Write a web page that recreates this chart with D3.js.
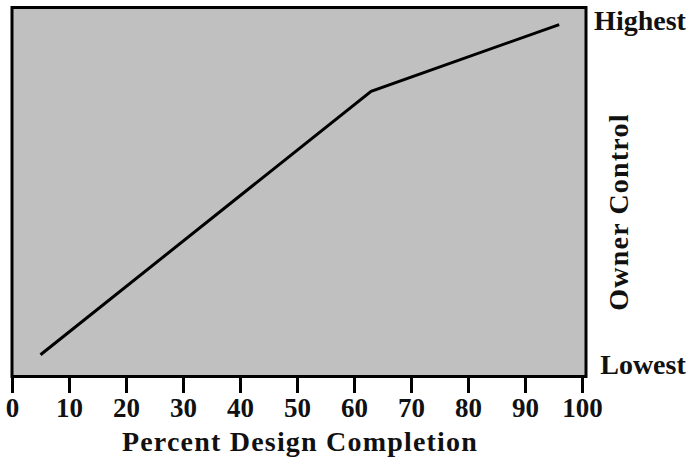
<!DOCTYPE html>
<html><head><meta charset="utf-8">
<script src="https://cdn.jsdelivr.net/npm/d3@7"></script>
<style>body{margin:0;background:#fff}svg{display:block}</style>
</head><body>
<script>
const completion = [5, 63, 96];
const ownerControl = [6, 77, 95];
const xTicks = [0,10,20,30,40,50,60,70,80,90,100];
const yLabels = ["Lowest", "Highest"];
const xTitle = "Percent Design Completion";
const yTitle = "Owner Control";

const W = 694, H = 464;
const svg = d3.select("body").append("svg").attr("width", W).attr("height", H);
const font = "'Liberation Serif', 'Times New Roman', serif";
const x = d3.scaleLinear().domain([0,100]).range([12, 582]);
const y = d3.scaleLinear().domain([0,100]).range([377, 6]);

svg.append("rect").attr("x", 12).attr("y", 7.5).attr("width", 574).attr("height", 369)
  .attr("fill", "#c0c0c0").attr("stroke", "#000").attr("stroke-width", 3);

const ax = svg.append("g").attr("transform", "translate(0,377)")
  .call(d3.axisBottom(x).tickValues(xTicks).tickSize(16).tickPadding(5).tickFormat(d3.format("d")));
ax.select(".domain").remove();
ax.selectAll(".tick line").attr("stroke", "#000").attr("stroke-width", 3);
ax.selectAll(".tick text").attr("font-family", font).attr("font-size", 27).attr("font-weight", "bold").attr("fill", "#111");

const line = d3.line().x((d,i)=>x(completion[i])).y((d,i)=>y(ownerControl[i]));
svg.append("path").datum(completion).attr("d", line).attr("fill", "none")
  .attr("stroke", "#000").attr("stroke-width", 3);

svg.append("text").attr("x", 300).attr("y", 451).attr("text-anchor", "middle")
  .attr("font-family", font).attr("font-size", 28).attr("font-weight", "bold").attr("fill", "#111")
  .attr("letter-spacing", 1.2).text(xTitle);

svg.append("text").attr("x", 640).attr("y", 30).attr("text-anchor", "middle")
  .attr("font-family", font).attr("font-size", 28).attr("font-weight", "bold").attr("fill", "#111").text(yLabels[1]);
svg.append("text").attr("x", 643).attr("y", 374).attr("text-anchor", "middle")
  .attr("font-family", font).attr("font-size", 28).attr("font-weight", "bold").attr("fill", "#111").text(yLabels[0]);

svg.append("text").attr("transform", "translate(628,212) rotate(-90)").attr("text-anchor", "middle")
  .attr("font-family", font).attr("font-size", 28).attr("font-weight", "bold").attr("fill", "#111")
  .attr("letter-spacing", 1.2).text(yTitle);
</script>
</body></html>
